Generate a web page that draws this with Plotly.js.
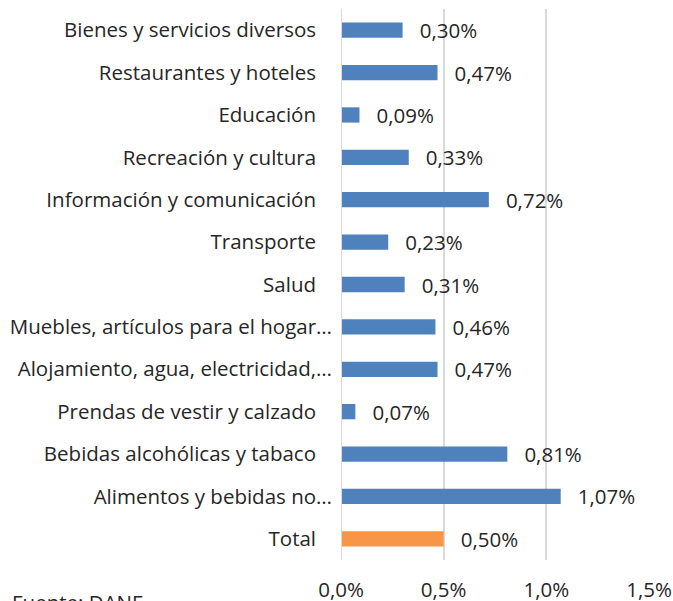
<!DOCTYPE html>
<html><head><meta charset="utf-8">
<script src="https://cdn.plot.ly/plotly-3.0.1.min.js"></script>
<style>html,body{margin:0;padding:0;background:#fff}</style>
</head><body>
<div id="chart" style="width:673px;height:601px"></div>
<script>
const categories = [
  "Total",
  "Alimentos y bebidas no…",
  "Bebidas alcohólicas y tabaco",
  "Prendas de vestir y calzado",
  "Alojamiento, agua, electricidad,…",
  "Muebles, artículos para el hogar…",
  "Salud",
  "Transporte",
  "Información y comunicación",
  "Recreación y cultura",
  "Educación",
  "Restaurantes y hoteles",
  "Bienes y servicios diversos"
];
const values = [0.50, 1.07, 0.81, 0.07, 0.47, 0.46, 0.31, 0.23, 0.72, 0.33, 0.09, 0.47, 0.30];
const barColors = categories.map(c => c === "Total" ? "#F79646" : "#4F81BD");
const tickVals = [0, 0.5, 1.0, 1.5];
const tickText = ["0,0%", "0,5%", "1,0%", "1,5%"];

const W = 673, H = 601;
const mL = 341, mR = 24, mT = 9, mB = 41;
const plotH = H - mT - mB;

const font = "'Open Sans', sans-serif";
const fs = 20.5;
const col = "#262626";
// Excel-like label alignment: truncated labels sit closer to the axis
const yTickText = categories.map(c => c.endsWith("…") ? c : c + "\u00A0\u00A0\u00A0");
const trace = {
  type: "bar",
  orientation: "h",
  y: categories,
  x: values,
  marker: {color: barColors},
  width: 0.36,
  texttemplate: "\u00A0\u00A0\u2009%{x:.2f}%",
  textposition: "outside",
  constraintext: "none",
  cliponaxis: false,
  textfont: {family: font, size: fs, color: col},
  hoverinfo: "none"
};
const layout = {
  width: W, height: H,
  margin: {l: mL, r: mR, t: mT, b: mB, pad: 0},
  separators: ",.",
  paper_bgcolor: "#fff",
  plot_bgcolor: "#fff",
  showlegend: false,
  font: {family: font, size: fs, color: col},
  xaxis: {
    range: [0, 1.5],
    tickvals: tickVals,
    ticktext: tickText,
    showgrid: true,
    gridcolor: "#D9D9D9",
    gridwidth: 2,
    zeroline: false,
    showline: false,
    ticklabelstandoff: 15,
    tickfont: {family: font, size: fs, color: col},
    fixedrange: true
  },
  yaxis: {
    type: "category",
    range: [-0.5, 12.5],
    tickvals: categories,
    ticktext: yTickText,
    showgrid: false,
    zeroline: false,
    showline: false,
    ticks: "",
    ticklabelstandoff: 8,
    tickfont: {family: font, size: fs, color: col},
    fixedrange: true
  },
  shapes: [{
    type: "line", xref: "x", yref: "paper", x0: 0, x1: 0, y0: 0, y1: 1,
    line: {color: "#D9D9D9", width: 2}
  }],
  annotations: [{
    text: "Fuente: DANE",
    xref: "paper", yref: "paper",
    x: (10 - mL) / (W - mL - mR),
    y: -(586 - (H - mB)) / plotH,
    xanchor: "left", yanchor: "top",
    showarrow: false,
    font: {family: font, size: fs, color: col}
  }]
};
Plotly.newPlot("chart", [trace], layout, {displayModeBar: false, staticPlot: true});
</script>
</body></html>
